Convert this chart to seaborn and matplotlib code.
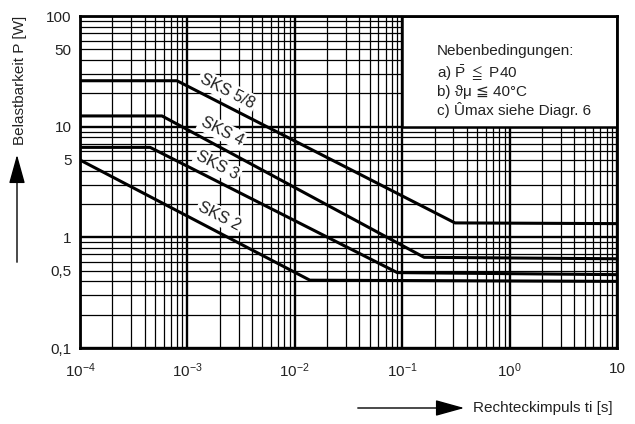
import numpy as np
import pandas as pd
import matplotlib
matplotlib.use("Agg")
import matplotlib.pyplot as plt
import matplotlib.ticker as mticker
from matplotlib.patches import Rectangle, FancyArrowPatch
import seaborn as sns

# ---- data ----
series_names = ["SKS 5/8", "SKS 4", "SKS 3", "SKS 2"]
t_sks58 = [1e-4, 8e-4, 0.31, 10]
p_sks58 = [26.0, 26.0, 1.35, 1.33]
t_sks4 = [1e-4, 5.8e-4, 0.16, 10]
p_sks4 = [12.5, 12.5, 0.66, 0.64]
t_sks3 = [1e-4, 4.5e-4, 0.09, 10]
p_sks3 = [6.5, 6.5, 0.48, 0.46]
t_sks2 = [1e-4, 0.0138, 10]
p_sks2 = [5.0, 0.41, 0.40]

label_t = [2.35e-3, 2.1e-3, 1.9e-3, 2.0e-3]
label_p = [21.0, 9.1, 4.45, 1.55]

y_tick_vals = [0.1, 1, 10, 100]
y_tick_labels = ["0,1", "1", "10", "100"]
y_minor_labelled = {0.5: "0,5", 5: "5", 50: "50"}
x_tick_vals = [1e-4, 1e-3, 1e-2, 1e-1, 1e0, 1e1]
x_tick_labels = ["$10^{-4}$", "$10^{-3}$", "$10^{-2}$", "$10^{-1}$", "$10^{0}$", "10"]

note_lines = ["Nebenbedingungen:",
              r"a) $\bar{\mathrm{P}}\ \leqq\ $P40",
              "b) \u03d1\u03bc \u2266 40\u00b0C",
              "c) \u00dbmax siehe Diagr. 6"]

# ---- table ----
rows = []
for name, ts, ps in zip(series_names, [t_sks58, t_sks4, t_sks3, t_sks2],
                        [p_sks58, p_sks4, p_sks3, p_sks2]):
    for t, p in zip(ts, ps):
        rows.append({"series": name, "t": t, "P": p})
df = pd.DataFrame(rows)

sns.set_theme(style="white")
plt.rcParams["font.family"] = ["Liberation Sans", "DejaVu Sans"]
plt.rcParams["mathtext.fontset"] = "custom"
plt.rcParams["mathtext.rm"] = "Liberation Sans"
plt.rcParams["mathtext.it"] = "Liberation Sans"
plt.rcParams["mathtext.fallback"] = "stix"

fig = plt.figure(figsize=(6.35, 4.24), dpi=100)
ax = fig.add_axes([80 / 635, 1 - 348 / 424, (617 - 80) / 635, (348 - 16) / 424])

ax.set_xscale("log")
ax.set_yscale("log")
ax.set_xlim(1e-4, 10)
ax.set_ylim(0.1, 100)

sns.lineplot(data=df, x="t", y="P", hue="series", units="series", estimator=None,
             palette=["black"] * 4, linewidth=2.2, legend=False, ax=ax, zorder=3)

# ticks & grid
ax.xaxis.set_major_locator(mticker.FixedLocator(x_tick_vals))
ax.xaxis.set_major_formatter(mticker.FixedFormatter(x_tick_labels))
ax.xaxis.set_minor_locator(mticker.LogLocator(base=10, subs=np.arange(2, 10)))
ax.xaxis.set_minor_formatter(mticker.NullFormatter())
ax.yaxis.set_major_locator(mticker.FixedLocator(y_tick_vals))
ax.yaxis.set_major_formatter(mticker.FixedFormatter(y_tick_labels))
ax.yaxis.set_minor_locator(mticker.LogLocator(base=10, subs=np.arange(2, 10)))

def minor_fmt(v, pos):
    for k, s in y_minor_labelled.items():
        if abs(v - k) / k < 1e-6:
            return s
    return ""

ax.yaxis.set_minor_formatter(mticker.FuncFormatter(minor_fmt))
ax.tick_params(which="both", length=0, labelsize=11, colors="#222222")
ax.tick_params(axis="x", which="both", pad=10)
ax.tick_params(axis="y", which="both", pad=6)
ax.set_axisbelow(True)
ax.grid(which="major", color="black", linewidth=1.7)
ax.grid(which="minor", color="black", linewidth=0.9)
for s in ax.spines.values():
    s.set_color("black")
    s.set_linewidth(2.0)
ax.set_xlabel("")
ax.set_ylabel("")

# note box
ax.add_patch(Rectangle((0.1, 10), 9.9, 90, facecolor="white", edgecolor="black",
                       linewidth=1.8, zorder=1.5))
note_y = [51, 73, 92, 110]
for line, yp in zip(note_lines, note_y):
    fig.text(437 / 635, 1 - yp / 424, line, fontsize=11, ha="left", va="center",
             color="#222222")

# curve labels
for name, lt, lp in zip(series_names, label_t, label_p):
    ax.text(lt, lp, name, rotation=-27, ha="center", va="center", fontsize=11.5,
            color="#222222", zorder=4,
            bbox=dict(facecolor="white", edgecolor="none", pad=1.5))

# axis labels with arrows
fig.text(20 / 635, 1 - 80 / 424, "Belastbarkeit P [W]", rotation=90, ha="center",
         va="center", fontsize=11, color="#222222")
fig.patches.append(FancyArrowPatch(
    (17 / 635, 1 - 265 / 424), (17 / 635, 1 - 152 / 424), transform=fig.transFigure,
    arrowstyle="-|>,head_length=18,head_width=5", color="black", linewidth=1.0,
    mutation_scale=1))
fig.text(473 / 635, 1 - 408 / 424, "Rechteckimpuls ti [s]", ha="left", va="center",
         fontsize=11, color="#222222")
fig.patches.append(FancyArrowPatch(
    (355 / 635, 1 - 408 / 424), (467 / 635, 1 - 408 / 424), transform=fig.transFigure,
    arrowstyle="-|>,head_length=18,head_width=5", color="black", linewidth=1.0,
    mutation_scale=1))

fig.savefig("out.png", dpi=100)
